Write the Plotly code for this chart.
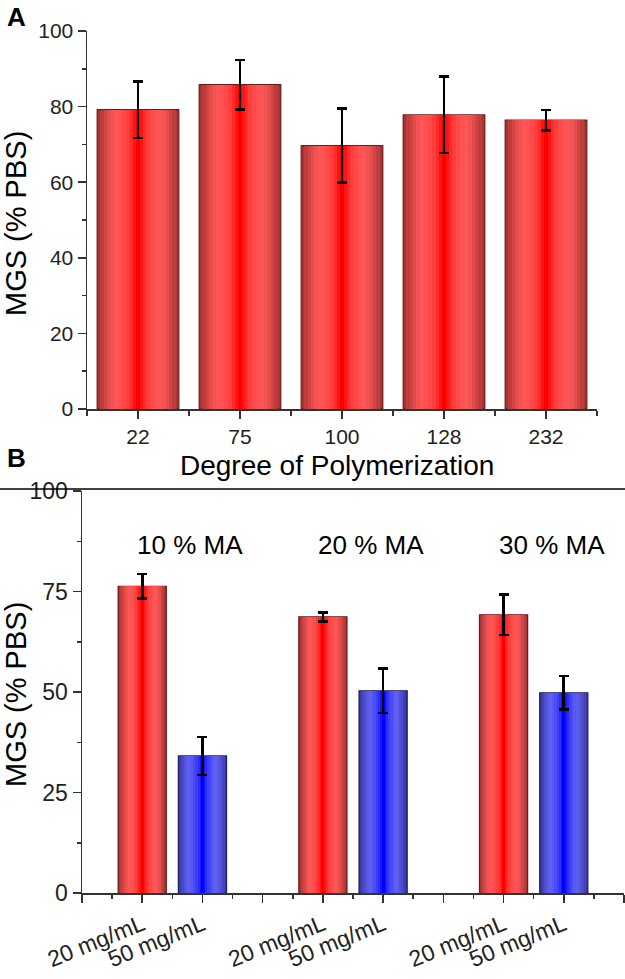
import plotly.graph_objects as go

# ---------------- data ----------------
dp_labels = ["22", "75", "100", "128", "232"]
dp_mgs = [79.2, 85.8, 69.7, 77.8, 76.4]
dp_err = [7.5, 6.5, 9.8, 10.1, 2.7]

ma_groups = ["10 % MA", "20 % MA", "30 % MA"]
conc_labels = ["20 mg/mL", "50 mg/mL"]
mgs_20 = [76.3, 68.7, 69.2]
err_20 = [3.1, 1.1, 5.0]
mgs_50 = [34.1, 50.3, 49.8]
err_50 = [4.7, 5.5, 4.2]

# ---------------- styling ----------------
FONT = "Liberation Sans, Arial, sans-serif"
W, H = 625, 979

red_layers = ["#a83434", "#bd3c3c", "#d24444", "#e44b4b", "#f25252", "#fb5757",
              "#ff5353", "#ff4a4a", "#ff3d3d", "#ff2a2a", "#ff1414", "#ff0000"]
blue_layers = ["#3a3a9e", "#4242b6", "#4a4aca", "#5252da", "#5a5ae8", "#5f5ff0",
               "#5858f4", "#4c4cf7", "#3e3efa", "#2c2cfc", "#1616fe", "#0000ff"]
fracs = [1.0, 0.92, 0.84, 0.76, 0.68, 0.60, 0.50, 0.40, 0.30, 0.20, 0.12, 0.06]

fig = go.Figure()


def gradient_bars(x, y, err, base_width, colors, edge, xa, ya):
    n = len(fracs)
    for i, (f, c) in enumerate(zip(fracs, colors)):
        last = i == n - 1
        fig.add_trace(go.Bar(
            x=x, y=y, width=base_width * f,
            marker=dict(color=c,
                        line=dict(color=edge if i == 0 else c, width=1.2 if i == 0 else 0)),
            error_y=dict(type="data", array=err, visible=last, color="black",
                         thickness=2.6, width=5),
            xaxis=xa, yaxis=ya, showlegend=False, hoverinfo="skip",
        ))


# top panel
top_x = list(range(len(dp_labels)))
gradient_bars(top_x, dp_mgs, dp_err, 0.8, red_layers, "#6e1a1a", "x", "y")

# bottom panel
red_x = [2 + 6 * i for i in range(len(ma_groups))]
blue_x = [4 + 6 * i for i in range(len(ma_groups))]
gradient_bars(red_x, mgs_20, err_20, 1.6, red_layers, "#6e1a1a", "x2", "y2")
gradient_bars(blue_x, mgs_50, err_50, 1.6, blue_layers, "#1e1e66", "x2", "y2")

axis_common = dict(showline=True, linecolor="#333333", linewidth=1.5, showgrid=False,
                   zeroline=False, ticks="outside", tickcolor="#333333", tickwidth=1.5,
                   automargin=False)

bottom_tickvals = list(range(0, 19, 2))
bottom_ticktext = []
for v in bottom_tickvals:
    if v in red_x:
        bottom_ticktext.append(conc_labels[0])
    elif v in blue_x:
        bottom_ticktext.append(conc_labels[1])
    else:
        bottom_ticktext.append("")

fig.update_layout(
    width=W, height=H,
    margin=dict(l=0, r=0, t=0, b=0, pad=0, autoexpand=False),
    paper_bgcolor="white", plot_bgcolor="white",
    barmode="overlay", bargap=0,
    xaxis=dict(domain=[87 / W, 597 / W], range=[-0.5, 4.5], anchor="y",
               tickmode="array", tickvals=top_x, ticktext=dp_labels, ticklen=8,
               tickfont=dict(family=FONT, size=21, color="#222222"),
               minor=dict(tickmode="array", tickvals=[i + 0.5 for i in range(-1, len(dp_labels))],
                          ticks="outside", ticklen=5, tickcolor="#333333", tickwidth=1.5),
               **axis_common),
    yaxis=dict(domain=[1 - 409 / H, 1 - 31 / H], range=[0, 100], anchor="x",
               tickmode="array", tickvals=[0, 20, 40, 60, 80, 100], ticklen=8,
               tickfont=dict(family=FONT, size=21, color="#222222"),
               minor=dict(dtick=10, tick0=0, ticks="outside", ticklen=4,
                          tickcolor="#333333", tickwidth=1.5),
               **axis_common),
    xaxis2=dict(domain=[82 / W, 624 / W], range=[0, 18], anchor="y2",
                tickmode="array", tickvals=bottom_tickvals, ticktext=bottom_ticktext,
                tickangle=-22, ticklen=8,
                tickfont=dict(family=FONT, size=23, color="#222222"),
                minor=dict(dtick=1, tick0=0, ticks="outside", ticklen=4,
                           tickcolor="#333333", tickwidth=1.5),
                **axis_common),
    yaxis2=dict(domain=[1 - 893 / H, 1 - 491 / H], range=[0, 100], anchor="x2",
                tickmode="array", tickvals=[0, 25, 50, 75, 100], ticklen=8,
                tickfont=dict(family=FONT, size=23, color="#222222"),
                minor=dict(dtick=12.5, tick0=0, ticks="outside", ticklen=4,
                           tickcolor="#333333", tickwidth=1.5),
                **axis_common),
)

annotations = [
    dict(text="<b>A</b>", x=5 / W, y=1 - 17 / H, xref="paper", yref="paper",
         xanchor="left", yanchor="middle", showarrow=False,
         font=dict(family=FONT, size=26, color="black")),
    dict(text="<b>B</b>", x=5 / W, y=1 - 458 / H, xref="paper", yref="paper",
         xanchor="left", yanchor="middle", showarrow=False,
         font=dict(family=FONT, size=26, color="black")),
    dict(text="MGS (% PBS)", x=16 / W, y=1 - 224 / H, xref="paper", yref="paper",
         textangle=-90, xanchor="center", yanchor="middle", showarrow=False,
         font=dict(family=FONT, size=29, color="black")),
    dict(text="MGS (% PBS)", x=16 / W, y=1 - 695 / H, xref="paper", yref="paper",
         textangle=-90, xanchor="center", yanchor="middle", showarrow=False,
         font=dict(family=FONT, size=29, color="black")),
    dict(text="Degree of Polymerization", x=337 / W, y=1 - 466 / H, xref="paper", yref="paper",
         xanchor="center", yanchor="middle", showarrow=False,
         font=dict(family=FONT, size=28, color="black")),
]
for i, g in enumerate(ma_groups):
    annotations.append(dict(text=g, x=3.6 + 6 * i, y=86.6, xref="x2", yref="y2",
                            xanchor="center", yanchor="middle", showarrow=False,
                            font=dict(family=FONT, size=26, color="black")))
fig.update_layout(annotations=annotations)

fig.add_shape(type="line", xref="paper", yref="paper", x0=0, x1=1,
              y0=1 - 489 / H, y1=1 - 489 / H, line=dict(color="black", width=1.5))

fig.write_html("out.html",
               config={"displayModeBar": False, "staticPlot": True},
               post_script="document.body.style.margin='0';document.body.style.overflow='hidden';")
